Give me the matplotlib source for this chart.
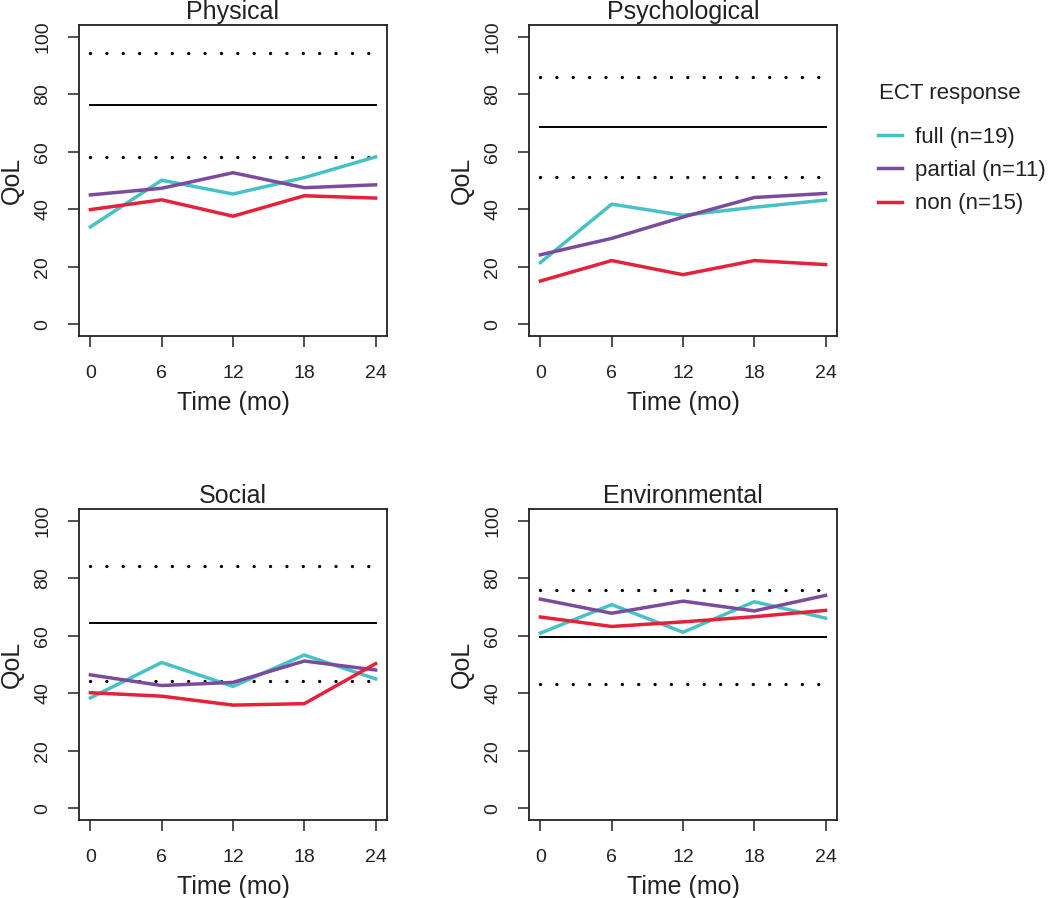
import numpy as np
import matplotlib
matplotlib.use('Agg')
import matplotlib.pyplot as plt

plt.rcParams['font.family'] = ['Liberation Sans', 'DejaVu Sans']

#%% data
months = [0, 6, 12, 18, 24]
domains = ['Physical', 'Psychological', 'Social', 'Environmental']
groups = ['full (n=19)', 'partial (n=11)', 'non (n=15)']
colors = ['#46C2C6', '#7B4B9E', '#E5213B']

full_qol = [[33.9, 50.1, 45.3, 51.0, 58.2],
            [21.5, 41.8, 37.9, 40.7, 43.2],
            [38.4, 50.7, 42.4, 53.3, 45.0],
            [60.9, 70.8, 61.2, 71.8, 66.1]]
partial_qol = [[45.0, 47.3, 52.7, 47.5, 48.5],
               [24.2, 29.9, 37.3, 44.1, 45.5],
               [46.4, 42.7, 43.8, 51.2, 48.1],
               [72.7, 67.8, 72.0, 68.6, 74.0]]
non_qol = [[39.9, 43.3, 37.6, 44.7, 43.9],
           [15.1, 22.2, 17.3, 22.2, 20.8],
           [40.2, 39.0, 35.9, 36.4, 50.3],
           [66.5, 63.2, 64.8, 66.6, 68.8]]

# population norm: mean and +/- band (dotted)
norm_mean = [76.1, 68.6, 64.4, 59.5]
norm_upper = [94.3, 86.0, 84.3, 75.7]
norm_lower = [58.2, 51.2, 44.4, 43.3]

#%% layout
fig = plt.figure(figsize=(10.5, 8.98), dpi=100)
W, H = 1050., 898.
boxes = [(79, 25), (529, 25), (79, 509), (529, 509)]  # left, top in pixels
bw, bh = 308, 311

series = [full_qol, partial_qol, non_qol]
dot_style = (0, (0.01, 4.9))
ink = '#222222'

for k, name in enumerate(domains):
    left, top = boxes[k]
    ax = fig.add_axes([left / W, 1 - (top + bh) / H, bw / W, bh / H])
    ax.plot([months[0], months[-1]], [norm_upper[k]] * 2, color='black', lw=2.4,
            linestyle=dot_style, dash_capstyle='round')
    ax.plot([months[0], months[-1]], [norm_mean[k]] * 2, color='black', lw=1.4)
    ax.plot([months[0], months[-1]], [norm_lower[k]] * 2, color='black', lw=2.4,
            linestyle=dot_style, dash_capstyle='round')
    for s, vals in enumerate(series):
        ax.plot(months, vals[k], color=colors[s], lw=2.5, label=groups[s])
    ax.set_xlim(-0.96, 24.96)
    ax.set_ylim(-4, 104)
    ax.set_xticks(months)
    ax.set_yticks([0, 20, 40, 60, 80, 100])
    ax.tick_params(direction='out', length=8, width=1.1, labelsize=14, colors=ink)
    ax.tick_params(axis='x', pad=13)
    ax.tick_params(axis='y', pad=12)
    for lab in ax.get_yticklabels():
        lab.set_rotation(90)
        lab.set_va('center')
    for sp in ax.spines.values():
        sp.set_linewidth(1.3)
        sp.set_color(ink)
    ax.text(0.5, 1 + 13 / bh, name, transform=ax.transAxes, ha='center', va='center',
            fontsize=18, color=ink)
    ax.set_xlabel('Time (mo)', fontsize=18, color=ink)
    ax.xaxis.set_label_coords(0.5, -0.215)
    ax.xaxis.label.set_va('center')
    ax.set_ylabel('QoL', fontsize=18, color=ink)
    ax.yaxis.set_label_coords(-0.217, 0.5)
    ax.yaxis.label.set_va('center')
    if k == 1:
        handles, labels = ax.get_legend_handles_labels()

fig.text(879 / W, 1 - 93 / H, 'ECT response', ha='left', va='center',
         fontsize=16, color=ink)
leg = fig.legend(handles, labels, loc='upper left',
                 bbox_to_anchor=(858 / W, 1 - 107 / H), frameon=False,
                 fontsize=16, handlelength=1.1, handletextpad=0.55,
                 labelspacing=0.55)
for t in leg.get_texts():
    t.set_color(ink)

fig.savefig('out.png', dpi=100)
